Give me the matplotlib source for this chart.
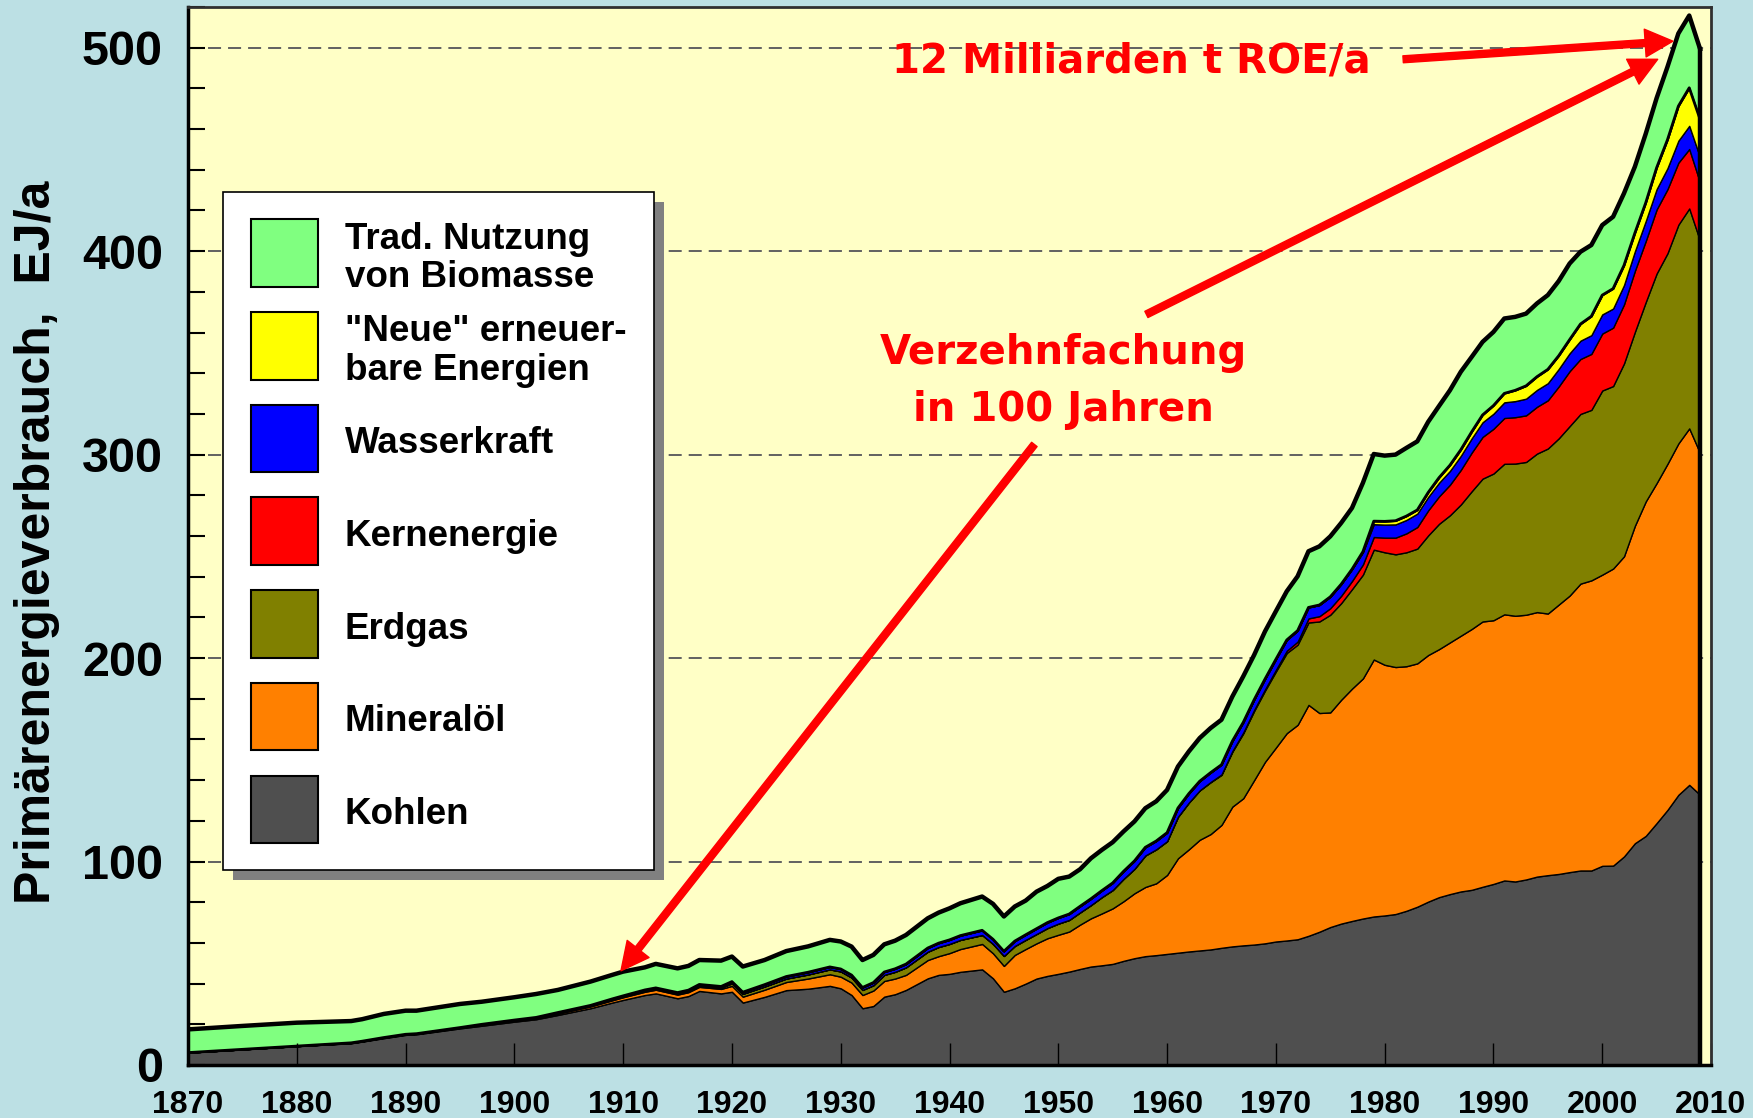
import numpy as np
import matplotlib.pyplot as plt
from matplotlib.patches import Rectangle

# Weltprimaerenergieverbrauch in EJ/a
years = [
    1870, 1875, 1880, 1885, 1886, 1888, 1890, 1891, 1895, 1897,
    1900, 1902, 1904, 1907, 1909, 1910, 1912, 1913, 1915, 1916,
    1917, 1919, 1920, 1921, 1923, 1925, 1927, 1929, 1930, 1931,
    1932, 1933, 1934, 1935, 1936, 1938, 1939, 1940, 1941, 1943,
    1944, 1945, 1946, 1947, 1948, 1949, 1950, 1951, 1952, 1953,
    1954, 1955, 1956, 1957, 1958, 1959, 1960, 1961, 1962, 1963,
    1964, 1965, 1966, 1967, 1968, 1969, 1970, 1971, 1972, 1973,
    1974, 1975, 1976, 1977, 1978, 1979, 1980, 1981, 1982, 1983,
    1984, 1985, 1986, 1987, 1988, 1989, 1990, 1991, 1992, 1993,
    1994, 1995, 1996, 1997, 1998, 1999, 2000, 2001, 2002, 2003,
    2004, 2005, 2006, 2007, 2008, 2009,
]

kohlen = [
    6.1, 7.7, 9.3, 10.7, 11.5, 13.2, 14.8, 15.1, 18.0, 19.3,
    21.3, 22.5, 24.6, 27.9, 30.7, 32.0, 34.4, 35.2, 32.8, 33.9,
    36.4, 35.2, 36.0, 30.7, 33.5, 36.8, 37.5, 38.9, 37.7, 34.4,
    27.9, 29.0, 33.6, 34.8, 36.9, 42.6, 44.3, 44.8, 45.8, 47.0,
    42.6, 36.0, 37.7, 40.0, 42.5, 43.8, 44.8, 45.9, 47.2, 48.4,
    49.0, 49.7, 51.2, 52.5, 53.5, 54.0, 54.6, 55.2, 55.8, 56.3,
    56.8, 57.6, 58.3, 58.8, 59.2, 59.8, 60.7, 61.2, 61.8, 63.5,
    65.5, 67.8, 69.5, 70.8, 72.0, 73.0, 73.5, 74.2, 75.8, 77.8,
    80.3, 82.5, 84.0, 85.3, 86.1, 87.6, 89.0, 90.7, 90.2, 91.2,
    92.6, 93.3, 93.9, 94.8, 95.6, 95.6, 97.9, 98.0, 102.5, 109.0,
    112.6, 118.9, 125.4, 132.8, 137.7, 132.8,
]

mineraloel = [
    0.0, 0.0, 0.0, 0.1, 0.1, 0.2, 0.2, 0.2, 0.3, 0.4,
    0.5, 0.6, 0.7, 0.9, 1.1, 1.3, 1.6, 1.8, 1.8, 1.9,
    2.0, 2.2, 2.9, 2.9, 3.5, 4.0, 5.0, 5.7, 5.7, 6.1,
    6.5, 7.6, 7.7, 7.7, 7.4, 9.0, 9.2, 10.2, 11.2, 12.5,
    12.3, 12.7, 16.4, 17.0, 17.3, 18.5, 19.2, 19.7, 21.8, 23.7,
    25.5, 27.3, 29.3, 31.9, 34.0, 35.3, 38.8, 46.4, 50.2, 54.4,
    56.7, 60.4, 68.7, 72.3, 80.8, 89.2, 95.3, 101.9, 105.4, 113.5,
    107.5, 105.5, 110.0, 114.2, 118.0, 126.3, 123.2, 121.4, 120.2, 119.6,
    121.2, 121.9, 123.7, 125.7, 128.2, 130.4, 129.6, 130.8, 130.6, 130.1,
    130.0, 128.6, 132.4, 135.9, 141.0, 142.6, 143.1, 146.0, 147.5, 156.0,
    164.4, 167.1, 170.1, 172.7, 175.2, 167.9,
]

erdgas = [
    0.0, 0.0, 0.0, 0.1, 0.1, 0.1, 0.1, 0.1, 0.1, 0.2,
    0.2, 0.2, 0.3, 0.3, 0.4, 0.4, 0.5, 0.5, 0.5, 0.5,
    0.6, 0.6, 1.3, 1.4, 1.6, 1.7, 2.0, 2.4, 2.6, 2.5,
    2.5, 2.6, 3.0, 3.3, 3.7, 4.1, 4.5, 4.5, 4.5, 4.4,
    4.6, 4.9, 4.4, 4.5, 4.6, 5.0, 5.5, 5.7, 6.0, 6.5,
    8.0, 9.0, 11.0, 12.0, 15.5, 16.7, 16.6, 20.4, 23.0, 24.3,
    25.5, 24.6, 27.0, 31.9, 34.0, 35.0, 37.4, 39.4, 39.4, 40.5,
    45.0, 48.0, 47.5, 48.9, 51.0, 54.0, 55.3, 55.4, 56.0, 56.4,
    58.8, 61.6, 62.5, 64.5, 67.7, 70.2, 72.1, 74.0, 74.8, 75.1,
    77.9, 81.1, 81.7, 83.3, 83.4, 83.8, 90.5, 89.7, 94.8, 95.3,
    98.0, 103.0, 103.5, 107.5, 108.1, 104.3,
]

kernenergie = [
    0, 0, 0, 0, 0, 0, 0, 0, 0, 0,
    0, 0, 0, 0, 0, 0, 0, 0, 0, 0,
    0, 0, 0, 0, 0, 0, 0, 0, 0, 0,
    0, 0, 0, 0, 0, 0, 0, 0, 0, 0,
    0, 0, 0, 0, 0, 0, 0, 0, 0, 0,
    0, 0, 0, 0, 0, 0, 0, 0, 0, 0,
    0.1, 0.2, 0.3, 0.4, 0.5, 0.6, 0.8, 1.1, 1.5, 2.0,
    2.6, 3.2, 3.6, 4.0, 5.0, 6.2, 7.2, 8.2, 9.3, 10.6,
    12.3, 13.5, 15.0, 17.0, 19.0, 20.5, 22.0, 22.5, 22.8, 22.9,
    23.0, 23.7, 25.5, 27.0, 27.0, 27.5, 28.0, 28.7, 29.0, 30.0,
    30.0, 31.5, 31.5, 30.5, 29.2, 28.6,
]

wasserkraft = [
    0, 0, 0, 0, 0, 0, 0, 0, 0, 0.1,
    0.1, 0.1, 0.2, 0.2, 0.3, 0.3, 0.4, 0.4, 0.5, 0.5,
    0.6, 0.6, 0.8, 0.8, 0.9, 1.0, 1.1, 1.2, 1.2, 1.2,
    1.2, 1.3, 1.4, 1.5, 1.6, 1.8, 1.9, 2.0, 2.1, 2.3,
    2.3, 2.3, 2.4, 2.5, 2.6, 2.7, 2.8, 2.9, 3.0, 3.1,
    3.2, 3.5, 3.7, 3.9, 4.0, 4.1, 4.2, 4.3, 4.4, 4.5,
    4.6, 4.8, 4.9, 5.0, 5.0, 5.1, 5.2, 5.3, 5.4, 5.4,
    5.5, 5.6, 5.7, 5.8, 6.0, 6.3, 6.4, 6.5, 6.6, 6.6,
    6.6, 6.7, 6.8, 6.9, 7.0, 7.2, 7.4, 7.7, 7.9, 8.2,
    8.3, 8.4, 8.6, 8.8, 9.0, 9.2, 9.4, 9.4, 9.5, 9.6,
    9.8, 10.0, 10.3, 10.8, 11.4, 12.5,
]

neue_ee = [
    0, 0, 0, 0, 0, 0, 0, 0, 0, 0,
    0, 0, 0, 0, 0, 0, 0, 0, 0, 0,
    0, 0, 0, 0, 0, 0, 0, 0, 0, 0,
    0, 0, 0, 0, 0, 0, 0, 0, 0, 0,
    0, 0, 0, 0, 0, 0, 0, 0, 0, 0,
    0, 0, 0, 0, 0, 0, 0, 0, 0, 0,
    0, 0, 0, 0, 0, 0, 0, 0, 0, 0,
    0, 0, 0, 0, 0.3, 1.5, 1.6, 1.8, 1.9, 1.8,
    2.2, 2.5, 2.8, 3.0, 3.2, 3.6, 4.0, 4.4, 5.3, 6.3,
    6.5, 6.8, 6.5, 6.7, 8.2, 9.3, 9.5, 9.8, 9.7, 9.0,
    9.0, 10.5, 14.0, 17.0, 18.7, 18.6,
]

biomasse = [
    11.4, 11.5, 11.5, 10.7, 10.8, 11.6, 11.6, 11.3, 11.6, 11.1,
    11.2, 11.5, 11.1, 11.7, 11.8, 11.9, 11.1, 11.8, 11.9, 11.9,
    12.0, 12.7, 12.3, 12.6, 12.1, 12.5, 12.7, 13.3, 13.5, 14.0,
    13.5, 13.6, 13.6, 13.8, 14.3, 14.6, 15.0, 15.5, 15.9, 16.6,
    17.4, 17.1, 17.0, 16.8, 18.2, 18.0, 19.2, 18.4, 18.2, 19.9,
    20.0, 20.0, 19.6, 19.4, 19.2, 19.5, 21.0, 20.4, 20.7, 21.2,
    21.9, 22.1, 21.9, 22.6, 22.0, 23.4, 23.6, 23.9, 26.7, 27.6,
    28.8, 29.7, 30.1, 30.1, 33.8, 33.0, 32.3, 32.5, 33.5, 33.7,
    34.7, 35.2, 36.8, 38.3, 36.8, 35.9, 36.2, 36.8, 36.1, 35.5,
    36.0, 36.5, 36.7, 37.4, 35.5, 35.0, 34.4, 35.3, 35.4, 32.6,
    33.9, 34.2, 35.8, 35.7, 35.5, 34.6,
]

labels = ['Kohlen', 'Mineralöl', 'Erdgas', 'Kernenergie', 'Wasserkraft',
          '"Neue" erneuer-\nbare Energien', 'Trad. Nutzung\nvon Biomasse']
colors = ['#4F4F4F', '#FF8000', '#808000', '#FF0000', '#0000FF',
          '#FFFF00', '#80FF80']

W, H = 1753, 1118
fig = plt.figure(figsize=(W / 100, H / 100), dpi=100)
fig.patch.set_facecolor('#BCE0E4')

ax = fig.add_axes([188 / W, 1 - 1065 / H, (1711 - 188) / W, (1065 - 7) / H])
ax.set_facecolor('#FFFFC6')

layers = [kohlen, mineraloel, erdgas, kernenergie, wasserkraft, neue_ee, biomasse]
ax.stackplot(years, layers, colors=colors, edgecolor='black', linewidth=1.0)

total = np.sum(layers, axis=0)
ohne_bio = total - np.array(biomasse)
ax.plot(years, ohne_bio, color='black', lw=2)
ax.plot(years, total, color='black', lw=3.2)
ax.plot([years[-1], years[-1]], [0, total[-1]], color='black', lw=3.2)

# gestrichelte Hilfslinien hinter den Flaechen
for yv in [100, 200, 300, 400, 500]:
    ax.axhline(yv, color='#606060', lw=1.4, ls=(0, (6.7, 3.6)), zorder=0.5)

ax.set_xlim(1870, 2010)
ax.set_ylim(0, 520)

ax.set_xticks(range(1870, 2011, 10))
ax.set_yticks([0, 100, 200, 300, 400, 500])
ax.set_yticks(range(0, 521, 20), minor=True)
ax.tick_params(axis='x', direction='in', length=16, width=1, pad=18)
ax.tick_params(axis='y', which='both', direction='in', length=12, width=1.5, pad=18)
for lab in ax.get_xticklabels():
    lab.set_fontfamily(['Liberation Sans Narrow', 'Liberation Sans'])
    lab.set_fontweight('bold')
    lab.set_fontsize(23)
for lab in ax.get_yticklabels():
    lab.set_fontfamily('Liberation Sans')
    lab.set_fontweight('bold')
    lab.set_fontsize(35)

for s in ['left', 'bottom']:
    ax.spines[s].set_linewidth(2.5)
for s in ['top', 'right']:
    ax.spines[s].set_linewidth(2)
    ax.spines[s].set_color('#303030')

fig.text(37 / W, 1 - 542 / H, 'Primärenergieverbrauch,  EJ/a', rotation=90,
         ha='center', va='center', fontsize=36, fontweight='bold',
         family='Liberation Sans')

# Beschriftungen und Pfeile
red = '#FF0000'
arrow = dict(arrowstyle='simple,head_length=1.0,head_width=1.0,tail_width=0.25',
             color=red, mutation_scale=20, shrinkA=0, shrinkB=0)
ax.text(1956.7, 493.0, '12 Milliarden t ROE/a', color=red, fontsize=29,
        fontweight='bold', ha='center', va='center', family='DejaVu Sans')
ax.annotate('', xy=(2006.5, 503.2), xytext=(1981.7, 494.3), arrowprops=arrow)
ax.text(1950.5, 350.0, 'Verzehnfachung', color=red, fontsize=29,
        fontweight='bold', ha='center', va='center', family='DejaVu Sans')
ax.text(1950.5, 322.0, 'in 100 Jahren', color=red, fontsize=29,
        fontweight='bold', ha='center', va='center', family='DejaVu Sans')
ax.annotate('', xy=(2005.1, 494.3), xytext=(1958.1, 368.9), arrowprops=arrow)
ax.annotate('', xy=(1909.8, 46.3), xytext=(1947.8, 305.0), arrowprops=arrow)

# Legende als eigener Kasten mit Schatten (Pixelkoordinaten)
lax = fig.add_axes([0, 0, 1, 1], zorder=5)
lax.set_xlim(0, W)
lax.set_ylim(H, 0)
lax.axis('off')
lax.patch.set_alpha(0)
lax.add_patch(Rectangle((233, 202), 431, 678, facecolor='#808080', edgecolor='none'))
lax.add_patch(Rectangle((223, 192), 431, 678, facecolor='white',
                        edgecolor='black', lw=1.2))
for i, (lab, col) in enumerate(zip(labels[::-1], colors[::-1])):
    y0 = 219.3 + i * 92.7
    lax.add_patch(Rectangle((251, y0), 67.5, 67.5, facecolor=col,
                            edgecolor='black', lw=1.5))
    lax.text(345, y0 + 39, lab, ha='left', va='center', fontsize=26.5,
             fontweight='bold', family='Liberation Sans', linespacing=1.12)

fig.savefig('out.png', dpi=100, facecolor=fig.get_facecolor())
